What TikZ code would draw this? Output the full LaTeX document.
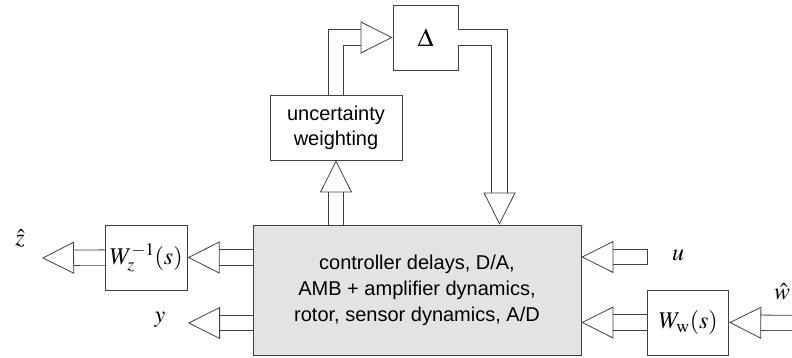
\documentclass[tikz,border=0pt]{standalone}
\usepackage{mathptmx}
\usepackage[no-math]{fontspec}
\setmainfont{Liberation Sans}
\usetikzlibrary{arrows.meta, positioning, calc}

\begin{document}
\begin{tikzpicture}[
  x=1pt, y=-1pt,
  blk/.style={draw=black!75, line width=0.8pt, fill=white, inner sep=0pt,
              minimum height=65pt, align=center},
  plant/.style={blk, fill=black!11, minimum width=328pt, minimum height=130pt,
                font=\fontsize{20}{26}\selectfont},
  fat/.style={draw=black!75, double=white, double distance=14.5pt, line width=0.8pt,
              -{Triangle[open, length=32pt, width=32pt]}},
  sig/.style={font=\fontsize{24}{28}\selectfont},
]
\useasboundingbox (0,0) rectangle (792,358);

% blocks
\node[plant] (main) at (417,290)
  {controller delays, D/A,\\AMB + amplifier dynamics,\\rotor, sensor dynamics, A/D};
\node[blk, minimum width=132pt, font=\fontsize{20}{25}\selectfont] (unc) at (336,127.5)
  {uncertainty\\weighting};
\node[blk, minimum width=65pt, font=\fontsize{26}{30}\selectfont] (delta) at (425.5,37.5)
  {$\Delta$};
\node[blk, minimum width=82pt, sig, left=65pt of main.north west, anchor=north east] (wz)
  {$W_z^{-1}(s)$};
\node[blk, minimum width=81pt, sig, right=66pt of main.south east, anchor=south west] (ww)
  {$W_{\mathrm{w}}(s)$};

% free ends
\coordinate (zout) at (42,258);
\coordinate (yout) at (188,323);
\coordinate (uin) at (647,257);
\coordinate (win) at (800,323);

% signal labels
\node[sig] (zlab) at (20,238) {$\hat{z}$};
\node[sig] (ylab) at (160,320) {$y$};
\node[sig] (ulab) at (678,255) {$u$};
\node[sig] (wlab) at (782,292) {$\hat{w}$};

% connectors
\draw[fat] (main.north -| unc.south) -- (unc.south);
\draw[fat] (unc.north) |- (delta.west);
\draw[fat] (delta.east) -| ($(main.north)+(82.5,0)$);
\draw[fat] (main.west |- wz.east) -- (wz.east);
\draw[fat] (wz.west) -- (zout);
\draw[fat] (main.west |- yout) -- (yout);
\draw[fat] (uin) -- (main.east |- uin);
\draw[draw=black!75, line width=0.8pt] ($(uin)+(0,-8)$) -- ($(uin)+(0,8)$);
\draw[fat] (ww.west) -- (main.east |- ww.west);
\draw[fat] (win) -- (ww.east);
\end{tikzpicture}
\end{document}
